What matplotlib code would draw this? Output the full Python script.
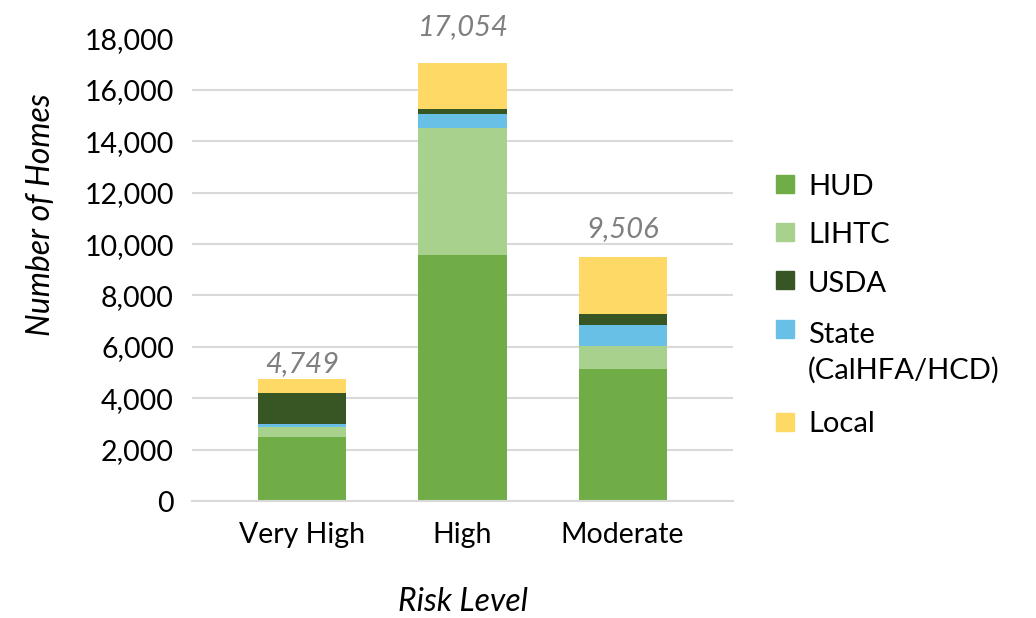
import numpy as np
import matplotlib
matplotlib.use('Agg')
import matplotlib.pyplot as plt
from matplotlib.patches import Rectangle

plt.rcParams['font.family'] = ['Lato', 'DejaVu Sans']

W, H = 1036, 618

risk_levels = ['Very High', 'High', 'Moderate']

# homes per funding source, stacked bottom to top
hud = [2485, 9557, 5150]
lihtc = [380, 4950, 900]
state = [113, 540, 790]
usda = [1228, 193, 420]
local = [543, 1814, 2246]

colors = {'HUD': '#70AD47', 'LIHTC': '#A9D18E', 'State': '#69C0E6',
          'USDA': '#375623', 'Local': '#FFD966'}
series = [('HUD', hud), ('LIHTC', lihtc), ('State', state),
          ('USDA', usda), ('Local', local)]

fig = plt.figure(figsize=(W / 100, H / 100), dpi=100)
ax = fig.add_axes([192 / W, 1 - 501 / H, 541 / W, 462.5 / H])

x = np.arange(len(risk_levels))
bottom = np.zeros(len(risk_levels))
for name, vals in series:
    ax.bar(x, vals, 0.55, bottom=bottom, color=colors[name], zorder=2)
    bottom += np.array(vals)

# totals above each bar
label_pad = [5, 20, 14]
for i, tot in enumerate(bottom):
    ax.annotate(f'{int(tot):,}', (x[i], tot), xytext=(0, label_pad[i]),
                textcoords='offset points', ha='center', va='baseline',
                fontsize=21, style='italic', color='#7F7F7F')

ax.set_xlim(-0.69, 2.69)
ax.set_ylim(0, 18000)
ax.set_yticks(np.arange(0, 18001, 2000))
ax.set_yticklabels([f'{v:,}' for v in range(0, 18001, 2000)])
ax.set_xticks(x)
ax.set_xticklabels(risk_levels)
ax.tick_params(axis='both', length=0, labelsize=20.5, colors='#000000')
ax.tick_params(axis='y', pad=13)
ax.tick_params(axis='x', pad=15)
ax.grid(axis='y', color='#D9D9D9', linewidth=1.5, zorder=0)
for s in ['top', 'right', 'left']:
    ax.spines[s].set_visible(False)
ax.spines['bottom'].set_color('#D9D9D9')
ax.spines['bottom'].set_linewidth(1.5)

ax.set_ylabel('Number of Homes', fontsize=23, style='italic')
ax.yaxis.set_label_coords(-0.251, 0.619)
ax.set_xlabel('Risk Level', fontsize=23, style='italic')
ax.xaxis.set_label_coords(0.5, -0.186)

# legend drawn by hand so the State square sits on its first line
legend_rows = [('HUD', ['HUD'], 184, [195]),
               ('LIHTC', ['LIHTC'], 232, [243]),
               ('USDA', ['USDA'], 280, [292]),
               ('State', ['State', '(CalHFA/HCD)'], 329, [343, 379]),
               ('Local', ['Local'], 422, [432])]
for key, lines, sq_y, baselines in legend_rows:
    fig.patches.append(Rectangle((776 / W, 1 - (sq_y + 9) / H), 18 / W, 18 / H,
                                 transform=fig.transFigure,
                                 color=colors[key]))
    for line, base in zip(lines, baselines):
        fig.text(808 / W, 1 - base / H, line, fontsize=21,
                 ha='left', va='baseline')

plt.savefig('out.png', dpi=100)
